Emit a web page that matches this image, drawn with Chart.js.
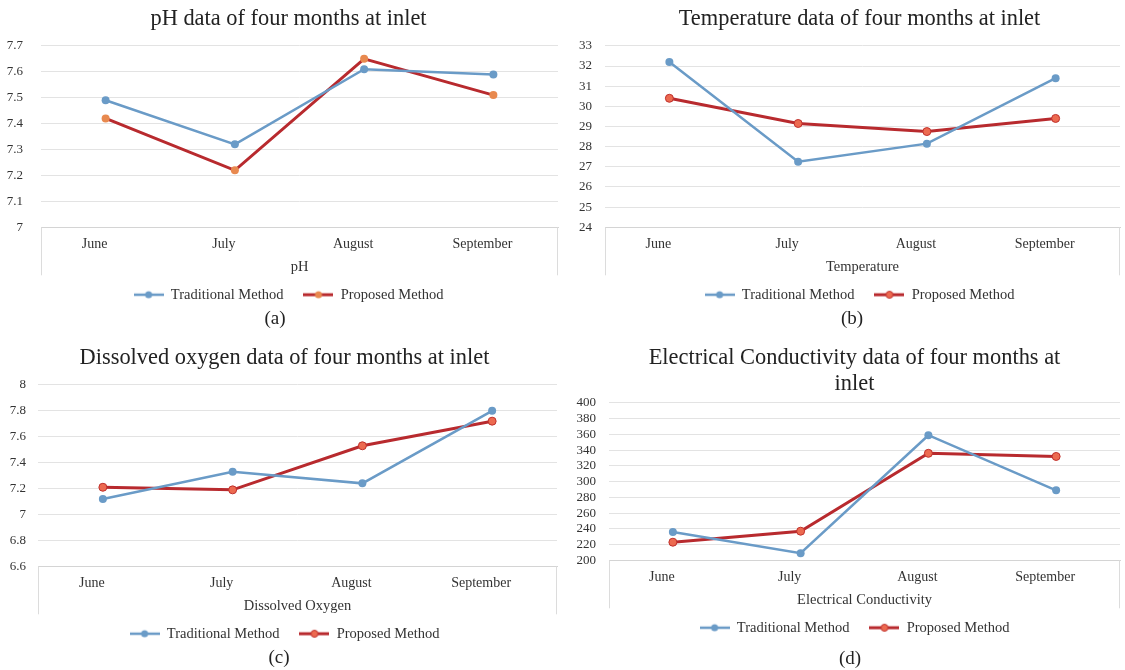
<!DOCTYPE html>
<html>
<head>
<meta charset="utf-8">
<title>Inlet water quality - four months</title>
<script src="https://cdn.jsdelivr.net/npm/chart.js@4.4.0/dist/chart.umd.min.js"></script>
<style>
    body { margin: 0; background: #fff; width: 1125px; height: 670px; overflow: hidden; position: relative; }
    canvas { position: absolute; }
    .caption { position: absolute; font-family: "Liberation Serif", "Times New Roman", serif; font-size: 19px; color: #222; transform: translateX(-50%); line-height: 20px; }
</style>
</head>
<body>
<canvas id="phChart" width="562" height="312" style="left:0;top:0"></canvas>
<canvas id="tempChart" width="563" height="312" style="left:562px;top:0"></canvas>
<canvas id="doChart" width="562" height="312" style="left:0;top:339px"></canvas>
<canvas id="ecChart" width="563" height="306" style="left:562px;top:339px"></canvas>
<div class="caption" style="left:275px;top:308px">(a)</div>
<div class="caption" style="left:852px;top:308px">(b)</div>
<div class="caption" style="left:279px;top:647px">(c)</div>
<div class="caption" style="left:850px;top:648px">(d)</div>

<script>
// values
const months = ['June', 'July', 'August', 'September'];
const seriesNames = ['Traditional Method', 'Proposed Method'];

const phTraditional = [7.49, 7.32, 7.61, 7.59];
const phProposed = [7.42, 7.22, 7.65, 7.51];
const phAxis = [7, 7.7, 0.1];

const tempTraditional = [32.2, 27.25, 28.15, 31.4];
const tempProposed = [30.4, 29.15, 28.75, 29.4];
const tempAxis = [24, 33, 1];

const doTraditional = [7.12, 7.33, 7.24, 7.8];
const doProposed = [7.21, 7.19, 7.53, 7.72];
const doAxis = [6.6, 8, 0.2];

const ecTraditional = [236, 209, 359, 289];
const ecProposed = [223, 237, 336, 332];
const ecAxis = [200, 400, 20];

const serif = '"Liberation Serif", "Times New Roman", serif';
const blue = '#6a9bc7';
const red = '#b82a2e';
const textColor = '#333';

// little line-with-dot icon for the legend
function legendIcon(line, fill, ring, width) {
    const c = document.createElement('canvas');
    c.width = 30;
    c.height = 10;
    const ctx = c.getContext('2d');
    ctx.strokeStyle = line;
    ctx.lineWidth = width;
    ctx.beginPath();
    ctx.moveTo(0, 5);
    ctx.lineTo(30, 5);
    ctx.stroke();
    ctx.beginPath();
    ctx.arc(15, 5, 3.5, 0, Math.PI * 2);
    ctx.fillStyle = fill;
    ctx.fill();
    if (ring) {
        ctx.lineWidth = 1;
        ctx.strokeStyle = ring;
        ctx.stroke();
    }
    return c;
}

// thin frame lines under the plot, like the Excel category box
const frameLine = {
    id: 'frameLine',
    afterDraw(chart) {
        const { ctx, chartArea } = chart;
        ctx.save();
        ctx.strokeStyle = '#dcdcdc';
        ctx.lineWidth = 1;
        ctx.beginPath();
        ctx.moveTo(Math.round(chartArea.left) + 0.5, chartArea.bottom);
        ctx.lineTo(Math.round(chartArea.left) + 0.5, chartArea.bottom + 48);
        ctx.moveTo(Math.round(chartArea.right) - 0.5, chartArea.bottom);
        ctx.lineTo(Math.round(chartArea.right) - 0.5, chartArea.bottom + 48);
        ctx.stroke();
        ctx.restore();
    }
};

// the original figure centres title and legend a bit right of the canvas centre
const centreShift = {
    id: 'centreShift',
    afterLayout(chart, args, opts) {
        [chart.titleBlock, chart.legend].forEach(box => {
            if (box) {
                box.left += opts.dx;
                box.right += opts.dx;
            }
        });
    }
};

function makeChart(id, cfg) {
    const [yMin, yMax, yStep] = cfg.axis;
    return new Chart(document.getElementById(id), {
        type: 'line',
        data: {
            labels: months,
            datasets: [
                {
                    label: seriesNames[0],
                    data: cfg.trad,
                    borderColor: blue,
                    backgroundColor: blue,
                    borderWidth: 2.5,
                    pointRadius: 4,
                    pointBackgroundColor: blue,
                    pointBorderWidth: 0
                },
                {
                    label: seriesNames[1],
                    data: cfg.prop,
                    borderColor: red,
                    backgroundColor: cfg.dot,
                    borderWidth: 3,
                    pointRadius: 4,
                    pointBackgroundColor: cfg.dot,
                    pointBorderColor: cfg.ring || cfg.dot,
                    pointBorderWidth: cfg.ring ? 1 : 0
                }
            ]
        },
        options: {
            responsive: false,
            animation: false,
            layout: { padding: { left: 0, right: cfg.padRight, top: 0, bottom: 0 } },
            plugins: {
                centreShift: { dx: cfg.shift },
                title: {
                    display: true,
                    text: cfg.title,
                    color: '#222',
                    font: { family: serif, size: 22.4, weight: 'normal', lineHeight: cfg.titleLine },
                    padding: { top: cfg.titleTop, bottom: cfg.titleGap }
                },
                legend: {
                    position: 'bottom',
                    labels: {
                        usePointStyle: true,
                        pointStyleWidth: 30,
                        padding: 20,
                        color: textColor,
                        font: { family: serif, size: 14.5 },
                        generateLabels(chart) {
                            return Chart.defaults.plugins.legend.labels.generateLabels(chart).map(item => {
                                const ds = chart.data.datasets[item.datasetIndex];
                                item.pointStyle = legendIcon(ds.borderColor, ds.pointBackgroundColor,
                                    ds.pointBorderWidth ? ds.pointBorderColor : null, ds.borderWidth);
                                return item;
                            });
                        }
                    }
                },
                tooltip: { enabled: false }
            },
            scales: {
                x: {
                    offset: true,
                    grid: { display: false, drawTicks: false },
                    border: { color: '#d4d4d4' },
                    ticks: { color: textColor, font: { family: serif, size: 14 }, padding: 9, labelOffset: -11 },
                    title: {
                        display: true,
                        text: cfg.axisTitle,
                        color: textColor,
                        font: { family: serif, size: 14.5 },
                        padding: { top: -4, bottom: -8 }
                    }
                },
                y: {
                    min: yMin,
                    max: yMax,
                    grid: { color: '#e3e3e3', drawTicks: false },
                    border: { display: false },
                    ticks: {
                        stepSize: yStep,
                        autoSkip: false,
                        padding: cfg.tickGap,
                        color: textColor,
                        font: { family: serif, size: 13 },
                        callback: v => String(+v.toFixed(2))
                    },
                    afterFit(scale) { scale.width = cfg.yWidth; }
                }
            }
        },
        plugins: [frameLine, centreShift]
    });
}

makeChart('phChart', {
    title: 'pH data of four months at inlet', axisTitle: 'pH',
    trad: phTraditional, prop: phProposed, axis: phAxis,
    dot: '#e8894f', ring: null, shift: 8,
    yWidth: 41, tickGap: 18, padRight: 1, titleTop: 6, titleGap: 13, titleLine: 1.2
});

makeChart('tempChart', {
    title: 'Temperature data of four months at inlet', axisTitle: 'Temperature',
    trad: tempTraditional, prop: tempProposed, axis: tempAxis,
    dot: '#ec6a50', ring: '#c0302c', shift: 16,
    yWidth: 43, tickGap: 13, padRight: 0, titleTop: 6, titleGap: 13, titleLine: 1.2
});

makeChart('doChart', {
    title: 'Dissolved oxygen data of four months at inlet', axisTitle: 'Dissolved Oxygen',
    trad: doTraditional, prop: doProposed, axis: doAxis,
    dot: '#ec6a50', ring: '#c0302c', shift: 6,
    yWidth: 38, tickGap: 12, padRight: 5, titleTop: 6, titleGap: 13, titleLine: 1.2
});

makeChart('ecChart', {
    title: ['Electrical Conductivity data of four months at', 'inlet'], axisTitle: 'Electrical Conductivity',
    trad: ecTraditional, prop: ecProposed, axis: ecAxis,
    dot: '#ec6a50', ring: '#c0302c', shift: 11,
    yWidth: 47, tickGap: 13, padRight: 0, titleTop: 6.4, titleGap: 5.6, titleLine: 1.16
});
</script>
</body>
</html>
